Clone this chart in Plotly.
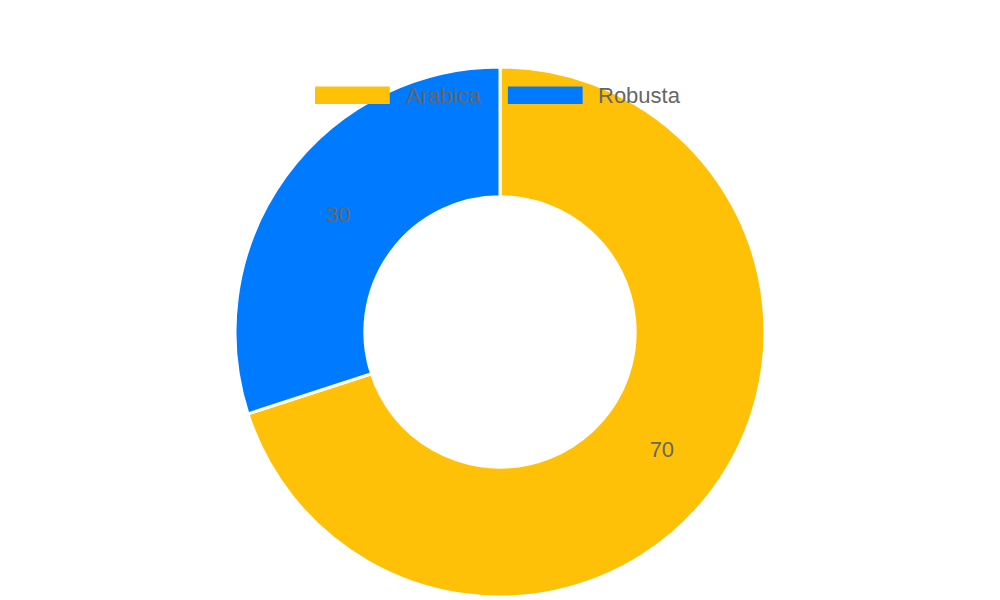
import plotly.graph_objects as go

labels = ["Arabica", "Robusta"]
values = [70, 30]
colors = ["#FFC107", "#007BFF"]

fig = go.Figure(go.Pie(
    labels=labels, values=values, hole=0.51, sort=False, direction="clockwise", rotation=0,
    marker=dict(colors=colors, line=dict(color="white", width=3)),
    textinfo="value", textposition="inside", insidetextorientation="horizontal",
    textfont=dict(color="#666666", size=22, family="Liberation Sans"),
    hoverinfo="label+value", showlegend=False
))
W, H = 1000, 600
# legend drawn as shapes/annotations in paper coords (Chart.js style wide swatches)
legend_x = [312, 508]
for i, (lab, col) in enumerate(zip(labels, colors)):
    x0 = legend_x[i]
    fig.add_shape(type="rect", xref="paper", yref="paper",
                  x0=x0 / W, x1=(x0 + 76) / W, y0=1 - 42 / H, y1=1 - 22 / H,
                  fillcolor=col, line=dict(width=0))
    fig.add_annotation(xref="paper", yref="paper", x=(x0 + 90) / W, y=1 - 32 / H,
                       xanchor="left", yanchor="middle", text=lab, showarrow=False,
                       font=dict(size=22, color="#666666", family="Liberation Sans"))
fig.update_layout(
    width=W, height=H, paper_bgcolor="white",
    margin=dict(t=59, b=11, l=0, r=16, autoexpand=False),
    font=dict(family="Liberation Sans", color="#666666", size=22),
)
fig.write_html("out.html")
